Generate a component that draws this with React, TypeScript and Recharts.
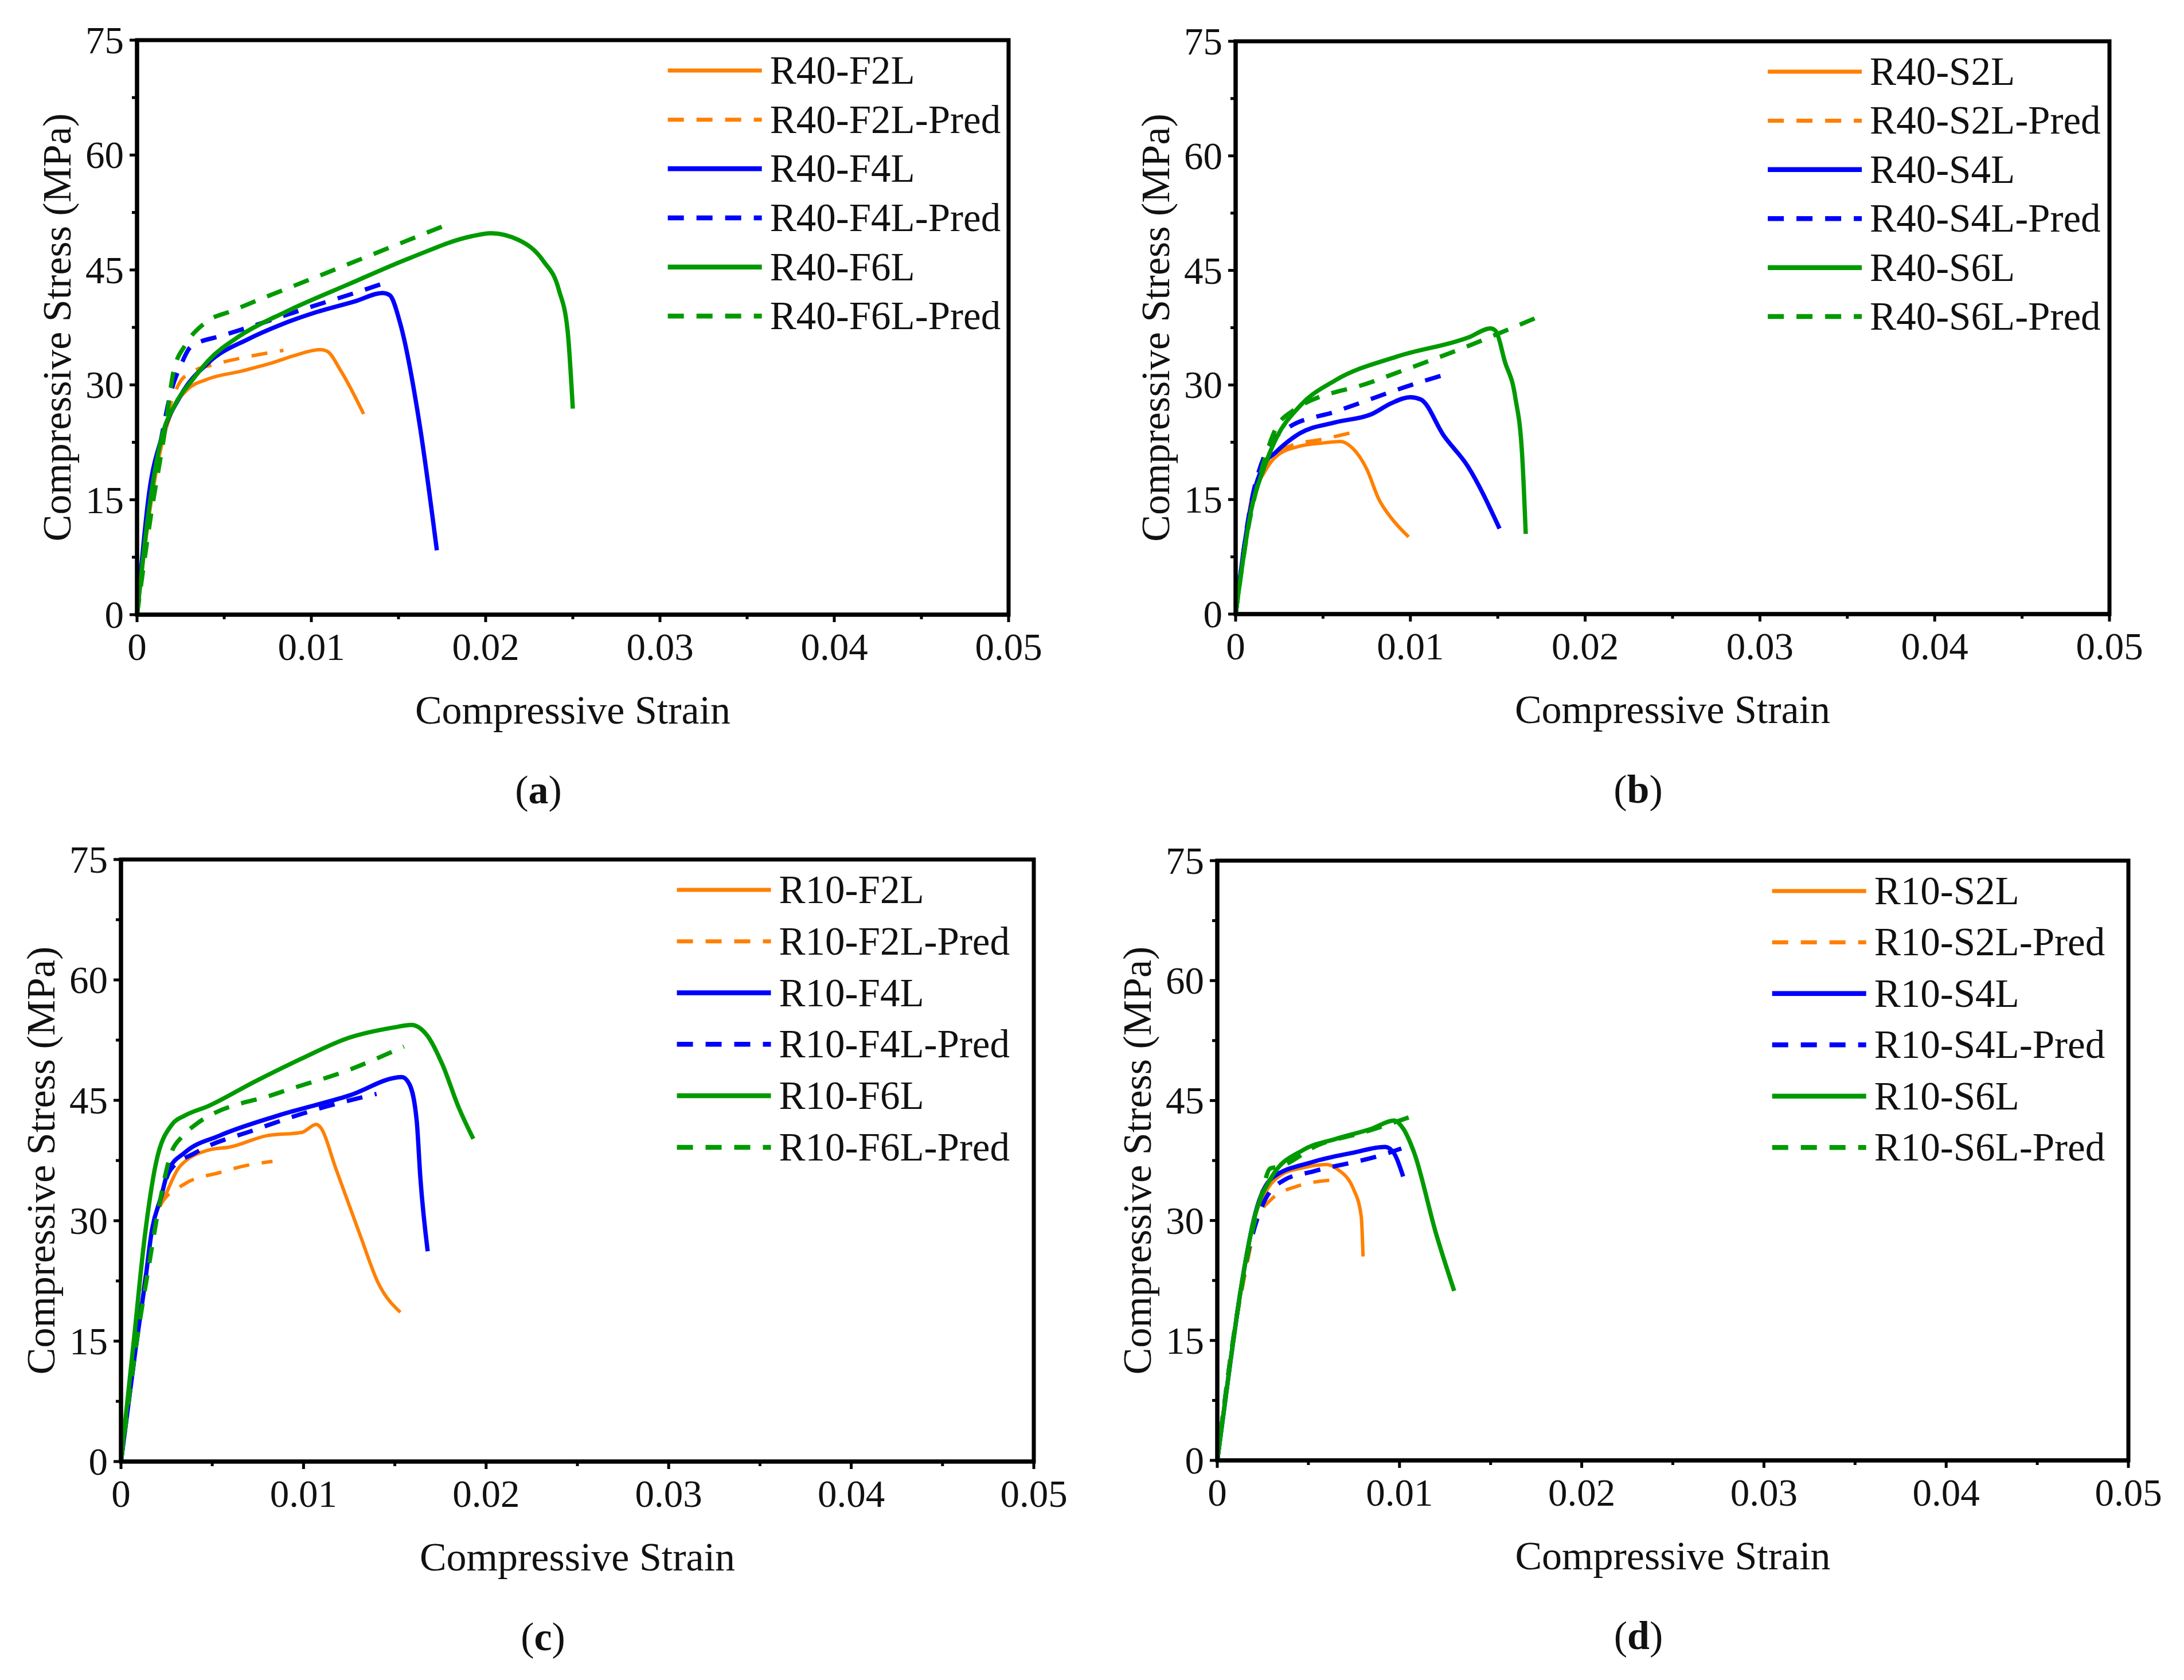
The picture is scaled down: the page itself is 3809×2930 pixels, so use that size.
import { Label, Line, LineChart, ReferenceArea, XAxis, YAxis } from 'recharts';

const ORANGE = '#ff8000';
const BLUE = '#0000ff';
const GREEN = '#009a00';
const INK = '#111111';
const FONT = '"Liberation Serif", "Times New Roman", serif';

const xTicks = [0, 0.005, 0.01, 0.015, 0.02, 0.025, 0.03, 0.035, 0.04, 0.045, 0.05];
const xTickLabels = ['0', '0.01', '0.02', '0.03', '0.04', '0.05'];
const yTicks = [0, 7.5, 15, 22.5, 30, 37.5, 45, 52.5, 60, 67.5, 75];
const yTickLabels = ['0', '15', '30', '45', '60', '75'];

type Pt = [number, number]; // [strain, stress MPa]

// (a) R40 - F series
const r40F2L: Pt[] = [[0, 0], [0.0007, 13], [0.0013, 21], [0.002, 26.5], [0.0029, 29.4], [0.004, 30.7], [0.006, 31.8], [0.0078, 32.9], [0.009, 33.8], [0.0105, 34.6], [0.0109, 34.4], [0.0117, 31.8], [0.013, 26.2]];
const r40F2LPred: Pt[] = [[0, 0], [0.001, 18], [0.0018, 26.5], [0.0025, 30.5], [0.003, 31.5], [0.0045, 32.7], [0.0064, 33.7], [0.0084, 34.5]];
const r40F4L: Pt[] = [[0, 0], [0.0007, 16], [0.0014, 23], [0.0025, 28.6], [0.0041, 32.9], [0.0064, 36], [0.0083, 37.9], [0.0103, 39.5], [0.0125, 40.9], [0.0141, 42], [0.0145, 41.7], [0.0151, 38], [0.0162, 25], [0.0172, 8.4]];
const r40F4LPred: Pt[] = [[0, 0], [0.0007, 15], [0.0013, 22], [0.002, 29.5], [0.0025, 32.5], [0.0031, 35], [0.005, 36.5], [0.0068, 37.8], [0.01, 40.2], [0.0125, 42], [0.0142, 43.3]];
const r40F6L: Pt[] = [[0, 0], [0.0007, 14], [0.0014, 23], [0.0022, 27.5], [0.0032, 30.7], [0.0041, 33.2], [0.0059, 36.4], [0.0085, 39.5], [0.0121, 43.1], [0.0157, 46.6], [0.0192, 49.4], [0.0203, 49.8], [0.0219, 48.9], [0.0233, 46.2], [0.0242, 42.4], [0.0247, 37.1], [0.025, 26.9]];
const r40F6LPred: Pt[] = [[0, 0], [0.0008, 13], [0.0016, 24], [0.0021, 31.8], [0.0028, 35.3], [0.0039, 38.1], [0.0055, 39.7], [0.0103, 44.1], [0.0181, 51.2]];

// (b) R40 - S series
const r40S2L: Pt[] = [[0, 0], [0.0004, 7], [0.0009, 15], [0.0016, 18.4], [0.0023, 20.6], [0.0037, 22], [0.005, 22.4], [0.006, 22.6], [0.0067, 21.7], [0.0075, 19], [0.0082, 15], [0.0089, 12.6], [0.0099, 10.1]];
const r40S2LPred: Pt[] = [[0, 0], [0.0008, 13], [0.0017, 19.5], [0.0031, 22], [0.005, 22.9], [0.0071, 24]];
const r40S4L: Pt[] = [[0, 0], [0.0005, 9], [0.001, 15.5], [0.0016, 19.5], [0.0023, 21.2], [0.0037, 23.7], [0.0057, 25.1], [0.0078, 26.2], [0.0089, 27.6], [0.01, 28.4], [0.0106, 28.1], [0.0119, 23.4], [0.0133, 19.3], [0.0151, 11.2]];
const r40S4LPred: Pt[] = [[0, 0], [0.0008, 13.5], [0.0017, 21], [0.003, 24.4], [0.0057, 26.5], [0.0106, 30.4], [0.0119, 31.3]];
const r40S6L: Pt[] = [[0, 0], [0.0009, 13.7], [0.0016, 19], [0.0023, 22.9], [0.0037, 27.3], [0.0057, 30.6], [0.0092, 33.7], [0.0133, 36.2], [0.0146, 37.4], [0.0149, 37], [0.0154, 33.1], [0.016, 28.4], [0.0164, 20.6], [0.0166, 10.5]];
const r40S6LPred: Pt[] = [[0, 0], [0.0007, 11], [0.0015, 19], [0.0023, 24.3], [0.0032, 26.5], [0.0078, 30.4], [0.0133, 35.1], [0.0172, 38.8]];

// (c) R10 - F series
const r10F2L: Pt[] = [[0, 0], [0.0008, 14], [0.0013, 22], [0.0017, 29], [0.0025, 33.5], [0.0032, 36.7], [0.0048, 38.8], [0.006, 39.2], [0.008, 40.6], [0.0099, 41], [0.0107, 42], [0.0109, 41.7], [0.0118, 36.3], [0.0131, 28.2], [0.0141, 22.2], [0.0153, 18.6]];
const r10F2LPred: Pt[] = [[0, 0], [0.001, 18], [0.0017, 28], [0.0022, 32.1], [0.0035, 34.6], [0.0054, 36], [0.0069, 36.9], [0.0083, 37.4]];
const r10F4L: Pt[] = [[0, 0], [0.0008, 14], [0.0013, 22], [0.0017, 28.9], [0.0022, 33], [0.0026, 36.3], [0.0035, 38.5], [0.0054, 40.6], [0.0086, 43.1], [0.0125, 45.6], [0.0154, 47.9], [0.0158, 47], [0.0162, 42.4], [0.0164, 35.3], [0.0168, 26.2]];
const r10F4LPred: Pt[] = [[0, 0], [0.0008, 14], [0.0013, 22], [0.002, 31], [0.0027, 36.3], [0.0041, 38.5], [0.0073, 41.3], [0.0112, 44.2], [0.014, 45.8]];
const r10F6L: Pt[] = [[0, 0], [0.0007, 15], [0.0013, 28], [0.0019, 37], [0.0028, 42], [0.0035, 43.1], [0.0048, 44.3], [0.0073, 47.3], [0.0099, 50.2], [0.0125, 52.8], [0.015, 54.1], [0.0159, 54.4], [0.0168, 53], [0.0176, 49.5], [0.0185, 44.1], [0.0193, 40.2]];
const r10F6LPred: Pt[] = [[0, 0], [0.0008, 14], [0.0015, 24], [0.0021, 32], [0.0027, 38.1], [0.0034, 40.6], [0.0041, 42], [0.0086, 45.9], [0.0125, 48.8], [0.0155, 51.7]];

// (d) R10 - S series
const r10S2L: Pt[] = [[0, 0], [0.0007, 12], [0.0013, 21.3], [0.0021, 30.7], [0.0028, 34.1], [0.0035, 35.7], [0.0047, 36.6], [0.006, 37], [0.0066, 36.4], [0.0075, 33.8], [0.0079, 30.5], [0.008, 25.5]];
const r10S2LPred: Pt[] = [[0, 0], [0.0008, 14], [0.0015, 23], [0.0022, 30.2], [0.0029, 32.5], [0.0044, 34.3], [0.0065, 35.1]];
const r10S4L: Pt[] = [[0, 0], [0.0007, 12], [0.0013, 21.5], [0.0021, 31], [0.003, 35.3], [0.0052, 37.3], [0.0075, 38.5], [0.0092, 39.2], [0.0097, 38.4], [0.0102, 35.5]];
const r10S4LPred: Pt[] = [[0, 0], [0.0008, 14], [0.0016, 25], [0.0025, 32], [0.0037, 35.1], [0.0052, 36.1], [0.0092, 38.3], [0.0101, 39]];
const r10S6L: Pt[] = [[0, 0], [0.0007, 12], [0.0013, 21.5], [0.002, 30], [0.003, 35.5], [0.0047, 38.8], [0.0065, 40.2], [0.0085, 41.5], [0.0097, 42.5], [0.0102, 41.5], [0.0108, 38.5], [0.012, 28.4], [0.013, 21.2]];
const r10S6LPred: Pt[] = [[0, 0], [0.0008, 14], [0.0016, 25], [0.0024, 33], [0.0029, 36.5], [0.0035, 36.8], [0.0055, 39.4], [0.008, 41], [0.0109, 43.2]];

const namesA = ['R40-F2L', 'R40-F2L-Pred', 'R40-F4L', 'R40-F4L-Pred', 'R40-F6L', 'R40-F6L-Pred'];
const namesB = ['R40-S2L', 'R40-S2L-Pred', 'R40-S4L', 'R40-S4L-Pred', 'R40-S6L', 'R40-S6L-Pred'];
const namesC = ['R10-F2L', 'R10-F2L-Pred', 'R10-F4L', 'R10-F4L-Pred', 'R10-F6L', 'R10-F6L-Pred'];
const namesD = ['R10-S2L', 'R10-S2L-Pred', 'R10-S4L', 'R10-S4L-Pred', 'R10-S6L', 'R10-S6L-Pred'];

const seriesColors = [ORANGE, ORANGE, BLUE, BLUE, GREEN, GREEN];
const seriesWidths = [6, 6, 7.5, 7.5, 7.5, 7.5];
const DASH = '28 22';

interface Box { L: number; T: number; R: number; B: number }

const buildSeries = (names: string[], sets: Pt[][]) =>
  names.map((name, i) => ({
    name,
    data: sets[i].map(([x, y]) => ({ x, y })),
    color: seriesColors[i],
    width: seriesWidths[i],
    dashed: i % 2 === 1,
  }));

const XTick = (props: any) => {
  const { x, y, index } = props;
  const major = index % 2 === 0;
  return (
    <g>
      <line x1={x} y1={y} x2={x} y2={y + (major ? 13 : 8)} stroke="#000" strokeWidth={5} />
      {major && (
        <text x={x} y={y + 56} textAnchor="middle" dominantBaseline="central" fontFamily={FONT} fontSize={67} fill={INK}>
          {xTickLabels[index / 2]}
        </text>
      )}
    </g>
  );
};

const YTick = (props: any) => {
  const { x, y, index } = props;
  const major = index % 2 === 0;
  return (
    <g>
      <line x1={x} y1={y} x2={x - (major ? 13 : 9)} y2={y} stroke="#000" strokeWidth={5} />
      {major && (
        <text x={x - 23} y={y} textAnchor="end" dominantBaseline="central" fontFamily={FONT} fontSize={67} fill={INK}>
          {yTickLabels[index / 2]}
        </text>
      )}
    </g>
  );
};

function Panel({ box, names, sets, caption }: { box: Box; names: string[]; sets: Pt[][]; caption: string }) {
  const YW = 200;
  const MT = 40;
  const MR = 140;
  const XH = 300;
  const MB = 110;
  const pw = box.R - box.L;
  const ph = box.B - box.T;
  const W = YW + pw + MR;
  const H = MT + ph + XH + MB;
  const plotL = YW;
  const plotT = MT;
  const plotR = YW + pw;
  const plotB = MT + ph;
  const cx = plotL + pw / 2;
  const series = buildSeries(names, sets);

  const rowGap = 0.0855 * ph;
  const legX1 = plotR - 0.391 * pw;
  const legX2 = legX1 + 164;
  const legTx = legX1 + 178;

  const legend = (
    <g>
      {series.map((s, i) => {
        const ly = plotT + 53 + i * rowGap;
        return (
          <g key={s.name}>
            <line x1={legX1} y1={ly} x2={legX2} y2={ly} stroke={s.color} strokeWidth={s.width + 1} strokeDasharray={s.dashed ? DASH : undefined} />
            <text x={legTx} y={ly} dominantBaseline="central" fontFamily={FONT} fontSize={69} fill={INK}>
              {s.name}
            </text>
          </g>
        );
      })}
    </g>
  );

  const yTitleX = plotL - 140;
  const yTitleY = plotT + ph / 2;

  return (
    <div style={{ position: 'absolute', left: box.L - YW, top: box.T - MT, width: W, height: H }}>
      <LineChart width={W} height={H} margin={{ top: MT, right: MR, bottom: MB, left: 0 }}>
        <XAxis
          type="number"
          dataKey="x"
          domain={[0, 0.05]}
          ticks={xTicks}
          interval={0}
          height={XH}
          tickSize={0}
          tickMargin={0}
          axisLine={{ stroke: '#000', strokeWidth: 7 }}
          tick={XTick}
        >
          <Label
            content={() => (
              <text x={cx} y={plotB + 166} textAnchor="middle" dominantBaseline="central" fontFamily={FONT} fontSize={70} fill={INK}>
                Compressive Strain
              </text>
            )}
          />
          <Label
            content={() => (
              <text x={cx - 60} y={plotB + 305} textAnchor="middle" dominantBaseline="central" fontFamily={FONT} fontSize={70} fill={INK}>
                (<tspan fontWeight="bold">{caption}</tspan>)
              </text>
            )}
          />
        </XAxis>
        <YAxis
          type="number"
          dataKey="y"
          domain={[0, 75]}
          ticks={yTicks}
          interval={0}
          width={YW}
          tickSize={0}
          tickMargin={0}
          axisLine={{ stroke: '#000', strokeWidth: 7 }}
          tick={YTick}
        >
          <Label
            content={() => (
              <g>
                <text
                  x={yTitleX}
                  y={yTitleY}
                  transform={`rotate(-90, ${yTitleX}, ${yTitleY})`}
                  textAnchor="middle"
                  dominantBaseline="central"
                  fontFamily={FONT}
                  fontSize={70}
                  fill={INK}
                >
                  Compressive Stress (MPa)
                </text>
                {legend}
              </g>
            )}
          />
        </YAxis>
        <ReferenceArea x1={0} x2={0.05} y1={0} y2={75} fill="none" fillOpacity={0} stroke="#000" strokeWidth={7} />
        {series.map((s) => (
          <Line
            key={s.name}
            name={s.name}
            data={s.data}
            dataKey="y"
            type="monotone"
            stroke={s.color}
            strokeWidth={s.width}
            strokeDasharray={s.dashed ? DASH : undefined}
            dot={false}
            activeDot={false}
            isAnimationActive={false}
          />
        ))}
      </LineChart>
    </div>
  );
}

export default function App() {
  return (
    <div style={{ position: 'absolute', left: 0, top: 0, width: 3809, height: 2930, background: '#fff', overflow: 'hidden' }}>
      <Panel box={{ L: 239, T: 70, R: 1759, B: 1072 }} names={namesA} sets={[r40F2L, r40F2LPred, r40F4L, r40F4LPred, r40F6L, r40F6LPred]} caption="a" />
      <Panel box={{ L: 2155, T: 72, R: 3679, B: 1071 }} names={namesB} sets={[r40S2L, r40S2LPred, r40S4L, r40S4LPred, r40S6L, r40S6LPred]} caption="b" />
      <Panel box={{ L: 211, T: 1499, R: 1803, B: 2549 }} names={namesC} sets={[r10F2L, r10F2LPred, r10F4L, r10F4LPred, r10F6L, r10F6LPred]} caption="c" />
      <Panel box={{ L: 2123, T: 1501, R: 3712, B: 2547 }} names={namesD} sets={[r10S2L, r10S2LPred, r10S4L, r10S4LPred, r10S6L, r10S6LPred]} caption="d" />
    </div>
  );
}
